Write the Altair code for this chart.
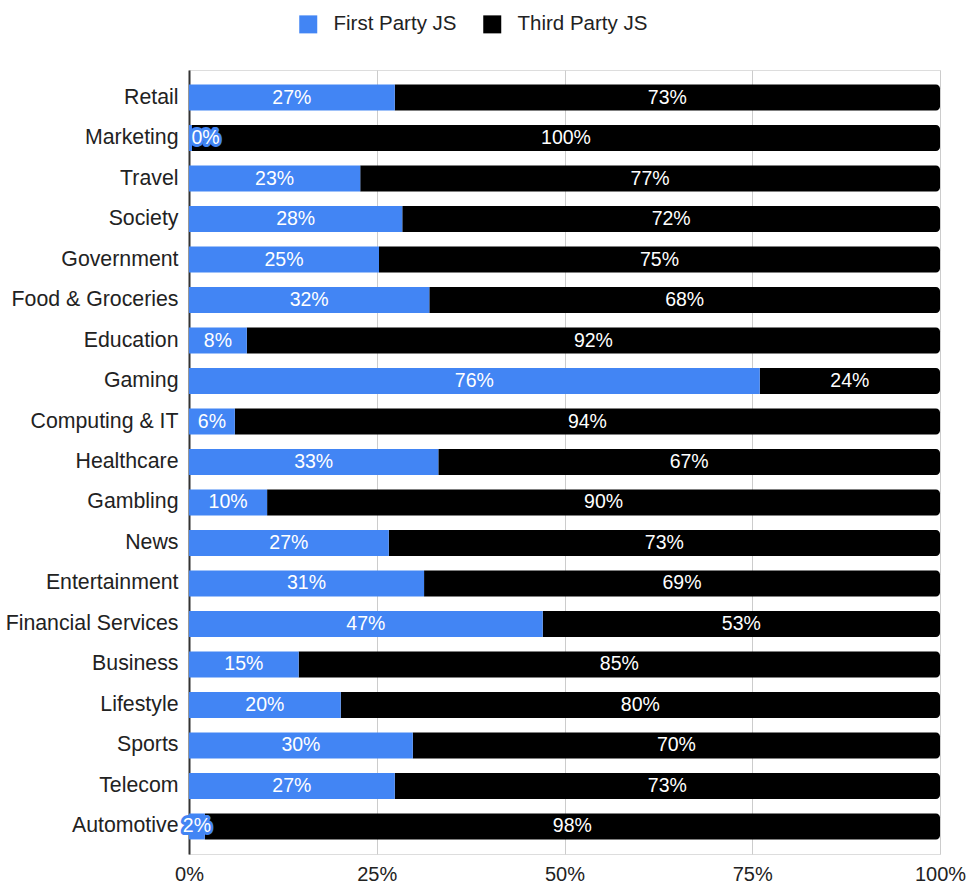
import altair as alt
import pandas as pd

categories = ["Retail", "Marketing", "Travel", "Society", "Government", "Food & Groceries",
              "Education", "Gaming", "Computing & IT", "Healthcare", "Gambling", "News",
              "Entertainment", "Financial Services", "Business", "Lifestyle", "Sports",
              "Telecom", "Automotive"]
first_party = [27.4, 0.4, 22.8, 28.4, 25.3, 32.0, 7.7, 76.0, 6.1, 33.2, 10.4, 26.6,
               31.3, 47.1, 14.6, 20.2, 29.8, 27.4, 2.1]
series_names = ["First Party JS", "Third Party JS"]
series_colors = ["#4285f4", "#000000"]
tick_values = [0, 25, 50, 75, 100]

df = pd.DataFrame({"cat": categories, "fp": first_party})

FONT = "Liberation Sans"

base = alt.Chart(df).transform_calculate(
    zero="0",
    full="100",
    s1="'First Party JS'",
    s2="'Third Party JS'",
    fpmid="datum.fp < 1 ? 2.2 : datum.fp / 2",
    tpmid="datum.fp + (100 - datum.fp) / 2",
    fplab="round(datum.fp) + '%'",
    tplab="round(100 - datum.fp) + '%'",
)

y_enc = alt.Y("cat:N", sort=categories, title=None,
              scale=alt.Scale(paddingInner=0.36, paddingOuter=0.36),
              axis=alt.Axis(domain=True, domainColor="#333333", domainWidth=2,
                            ticks=False, labelPadding=11, labelFontSize=21.3,
                            labelColor="#222222", labelFont=FONT, grid=False))
x_scale = alt.Scale(domain=[0, 100], nice=False)
color_scale = alt.Scale(domain=series_names, range=series_colors)
legend = alt.Legend(title=None, orient="none", direction="horizontal", legendX=109, legendY=-56,
                    symbolType="square", symbolSize=324, symbolStrokeWidth=0,
                    labelFontSize=20.5, labelFont=FONT, labelColor="#222222",
                    labelOffset=15, columnPadding=25, padding=0)

black = base.mark_bar(cornerRadiusTopRight=4, cornerRadiusBottomRight=4).encode(
    x=alt.X("fp:Q", scale=x_scale, title=None,
            axis=alt.Axis(values=tick_values, labelExpr="datum.value + '%'", grid=True,
                          gridColor="#cccccc", gridWidth=1, domain=False, ticks=False,
                          labelFlush=False, labelPadding=10, labelFontSize=20,
                          labelColor="#222222", labelFont=FONT)),
    x2="full:Q",
    y=y_enc,
    color=alt.Color("s2:N", scale=color_scale, legend=legend),
)
blue = base.mark_bar().encode(
    x=alt.X("zero:Q", scale=x_scale),
    x2="fp:Q",
    y=y_enc,
    color=alt.Color("s1:N", scale=color_scale, legend=legend),
)
halo = base.mark_text(font=FONT, fontSize=19.5, color="#4285f4", stroke="#4285f4",
                      strokeWidth=6, strokeJoin="round", baseline="middle").encode(
    x=alt.X("fpmid:Q", scale=x_scale), y=y_enc, text="fplab:N")
fp_text = base.mark_text(font=FONT, fontSize=19.5, color="white", baseline="middle").encode(
    x=alt.X("fpmid:Q", scale=x_scale), y=y_enc, text="fplab:N")
tp_text = base.mark_text(font=FONT, fontSize=19.5, color="white", baseline="middle").encode(
    x=alt.X("tpmid:Q", scale=x_scale), y=y_enc, text="tplab:N")

chart = alt.layer(black, blue, halo, fp_text, tp_text).properties(
    width=751, height=784,
    padding={"left": 189, "top": 70, "right": 27, "bottom": 32},
    autosize=alt.AutoSizeParams(type="none"),
).configure_view(stroke=None).configure(background="white")

chart.save("out.html", embed_options={"renderer": "svg", "actions": False})
